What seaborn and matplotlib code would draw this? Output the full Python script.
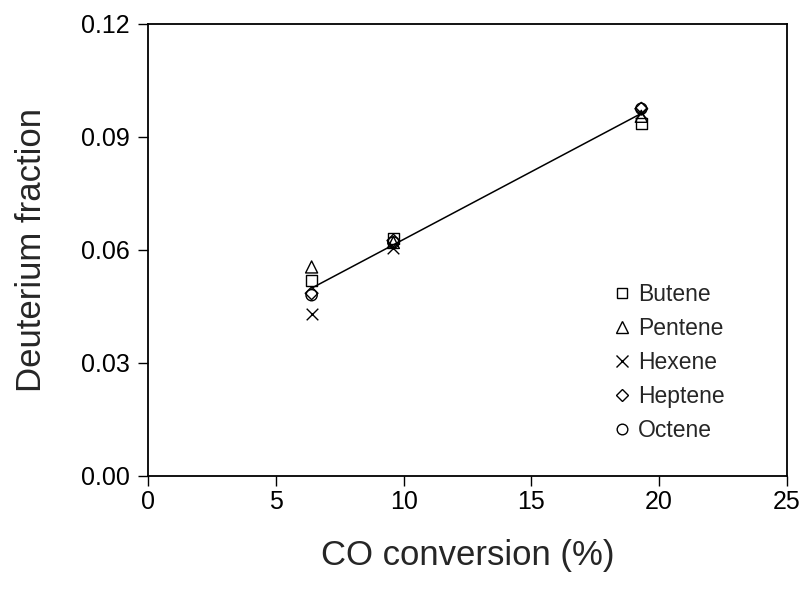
import numpy as np
import pandas as pd
import matplotlib
matplotlib.use("Agg")
import matplotlib.pyplot as plt
import seaborn as sns

# CO conversion (%) for the three runs
conversion = [6.4, 9.6, 19.3]

# Deuterium fraction of each olefin at those conversions
butene = [0.052, 0.063, 0.0935]
pentene = [0.0555, 0.062, 0.0955]
hexene = [0.043, 0.0605, 0.0965]
heptene = [0.0485, 0.0625, 0.0975]
octene = [0.048, 0.062, 0.0975]

species = ["Butene", "Pentene", "Hexene", "Heptene", "Octene"]
series = [butene, pentene, hexene, heptene, octene]
markers = ["s", "^", "x", "D", "o"]
sizes = [65, 75, 70, 42, 65]

x_ticks = [0, 5, 10, 15, 20, 25]
y_ticks = [0.00, 0.03, 0.06, 0.09, 0.12]

df = pd.DataFrame({
    "conversion": np.tile(conversion, len(species)),
    "fraction": np.concatenate(series),
    "species": np.repeat(species, len(conversion)),
})

sns.set_style("white")
plt.rcParams["font.family"] = ["Liberation Sans", "DejaVu Sans"]

fig = plt.figure(figsize=(8.05, 5.97), dpi=100)
ax = fig.add_axes([0.1839, 0.2027, 0.7937, 0.7571])

# Linear fit through all measurements
slope, intercept = np.polyfit(df["conversion"], df["fraction"], 1)
xf = np.array([min(conversion), max(conversion)])
ax.plot(xf, slope * xf + intercept, color="black", lw=1.1, zorder=1)

handles = []
for name, m, s in zip(species, markers, sizes):
    sub = df[df["species"] == name]
    if m == "x":
        sns.scatterplot(data=sub, x="conversion", y="fraction", marker=m, s=s,
                        color="black", linewidth=1.0, ax=ax, zorder=3)
    else:
        sns.scatterplot(data=sub, x="conversion", y="fraction", marker=m, s=s,
                        facecolor="none", edgecolor="black", linewidth=1.0,
                        ax=ax, zorder=3)
    handles.append(plt.Line2D([], [], linestyle="none", marker=m,
                              markersize=np.sqrt(s) * 0.95,
                              markerfacecolor="none", markeredgecolor="black",
                              markeredgewidth=1.0, color="black", label=name))

ax.set_xlim(0, 25)
ax.set_ylim(0, 0.12)
ax.set_xticks(x_ticks)
ax.set_yticks(y_ticks)
ax.set_xticklabels([str(v) for v in x_ticks])
ax.set_yticklabels([f"{v:.2f}" for v in y_ticks])
ax.tick_params(axis="both", direction="out", length=7, width=1.0,
               labelsize=18, color="black", labelcolor="black", pad=6)
ax.tick_params(axis="x", bottom=True, pad=3)
ax.tick_params(axis="y", left=True)

for sp in ax.spines.values():
    sp.set_visible(True)
    sp.set_color("black")
    sp.set_linewidth(1.3)

ax.set_xlabel("CO conversion (%)", fontsize=25, labelpad=18)
ax.set_ylabel("Deuterium fraction", fontsize=25, labelpad=24)

ax.legend(handles=handles, loc="upper left", bbox_to_anchor=(0.71, 0.452),
          frameon=False, fontsize=16.5, handlelength=0.8, handletextpad=0.3,
          labelspacing=0.48, borderpad=0)

fig.savefig("out.png", dpi=100)
